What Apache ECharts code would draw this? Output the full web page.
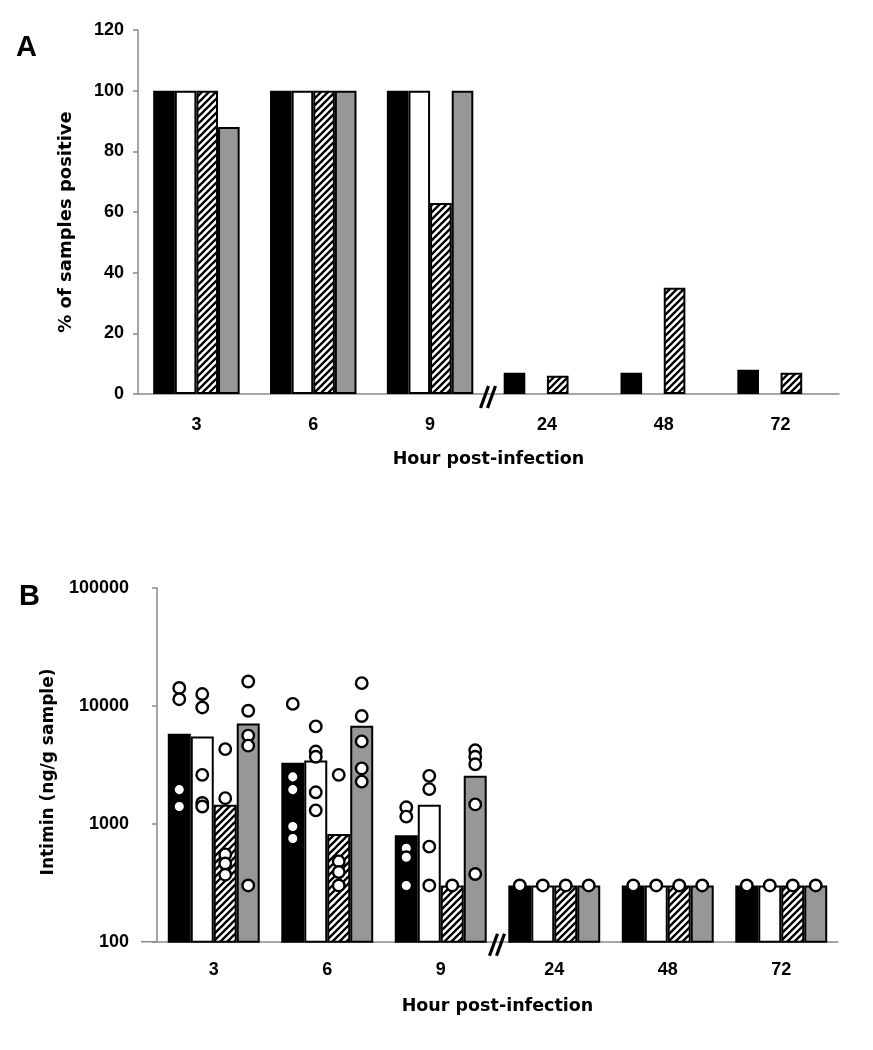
<!DOCTYPE html>
<html>
<head>
<meta charset="utf-8">
<script src="https://cdn.jsdelivr.net/npm/echarts@6/dist/echarts.min.js"></script>
<style>
html,body{margin:0;padding:0;background:#fff;}
#chart{width:873px;height:1050px;}
</style>
</head>
<body>
<div id="chart"></div>
<script>
// ---------- data ----------
const categories = ['3', '6', '9', '24', '48', '72'];

// Panel A: % of samples positive
const pctBlack = [100, 100, 100, 7, 7, 8];
const pctWhite = [100, 100, 100, 0, 0, 0];
const pctHatch = [100, 100, 63, 6, 35, 7];
const pctGray  = [88, 100, 100, 0, 0, 0];

// Panel B: Intimin (ng/g sample), bar = group level
const intBlack = [5800, 3300, 800, 300, 300, 300];
const intWhite = [5500, 3450, 1450, 300, 300, 300];
const intHatch = [1450, 820, 300, 300, 300, 300];
const intGray  = [7100, 6800, 2550, 300, 300, 300];

// Panel B: individual samples per time point
const dotsBlack = [[14200, 11400, 1950, 1400], [10400, 2500, 1950, 950, 750], [1380, 1150, 620, 520, 300], [300], [300], [300]];
const dotsWhite = [[12600, 9700, 2600, 1500, 1400], [6700, 4100, 3700, 1850, 1300], [2550, 1970, 640, 300], [300], [300], [300]];
const dotsHatch = [[4300, 1650, 550, 460, 370], [2600, 480, 390, 300], [300], [300], [300], [300]];
const dotsGray  = [[16100, 9100, 5600, 4600, 300], [15600, 8200, 5000, 2950, 2280], [4200, 3700, 3200, 1460, 375], [300], [300], [300]];

const yTicksA = [0, 20, 40, 60, 80, 100, 120];
const yTicksB = [100, 1000, 10000, 100000];

// ---------- styles ----------
function makeHatch() {
  const c = document.createElement('canvas');
  c.width = 7; c.height = 7;
  const g = c.getContext('2d');
  g.fillStyle = '#fff'; g.fillRect(0, 0, 7, 7);
  g.strokeStyle = '#000'; g.lineWidth = 2.3; g.lineCap = 'square';
  g.beginPath();
  g.moveTo(-1, 8); g.lineTo(8, -1);
  g.moveTo(-2, 2); g.lineTo(2, -2);
  g.moveTo(5, 9); g.lineTo(9, 5);
  g.stroke();
  return c;
}
const hatch = { image: makeHatch(), repeat: 'repeat' };
const GRAY = '#979797';
const AXIS = '#8a8a8a';
const fills = ['#000000', '#ffffff', hatch, GRAY];
const tickFont = { fontFamily: '"Liberation Sans Narrow", "Liberation Sans", Arial, sans-serif', fontWeight: 'bold', fontSize: 18, color: '#000' };
const titleFont = { fontFamily: '"DejaVu Sans", Verdana, sans-serif', fontWeight: 'bold', fontSize: 17.5, color: '#000' };

const catGapA = 0.26, catGapB = 0.19;
// center offsets (fraction of category) of the 4 bars in panel B
const offB = [0, 1, 2, 3].map(k => -(1 - catGapB) / 2 + (1 - catGapB) / 4 * (k + 0.5));

function barData(arr) {
  return arr.map(v => v === 0 ? { value: 0, itemStyle: { borderWidth: 0 } } : v);
}
function barSeries(data, k, axisIdx, gap) {
  return {
    type: 'bar', xAxisIndex: axisIdx, yAxisIndex: axisIdx,
    data: barData(data), barGap: '0%', barCategoryGap: (gap * 100) + '%',
    itemStyle: { color: fills[k], borderColor: '#000', borderWidth: 2 },
    silent: true, z: 2
  };
}
function dotSeries(dots, k) {
  const pts = [];
  dots.forEach((list, i) => list.forEach(v => pts.push([i + 0.5 + offB[k], v])));
  return {
    type: 'scatter', xAxisIndex: 2, yAxisIndex: 1, data: pts,
    symbol: 'circle', symbolSize: 11.5,
    itemStyle: { color: '#fff', borderColor: '#000', borderWidth: 2.4, opacity: 1 },
    silent: true, z: 5
  };
}

const chart = echarts.init(document.getElementById('chart'), null, { renderer: 'canvas' });
const option = {
  animation: false,
  backgroundColor: '#fff',
  grid: [
    { left: 138, right: 34, top: 30, height: 364 },
    { left: 157, right: 35, top: 588, height: 353.7 }
  ],
  xAxis: [
    {
      type: 'category', gridIndex: 0, data: categories,
      axisLine: { lineStyle: { color: AXIS, width: 1.5 } },
      axisTick: { show: false },
      axisLabel: Object.assign({ margin: 22 }, tickFont),
      name: 'Hour post-infection', nameLocation: 'middle', nameGap: 56,
      nameTextStyle: titleFont
    },
    {
      type: 'category', gridIndex: 1, data: categories,
      axisLine: { lineStyle: { color: AXIS, width: 1.5 } },
      axisTick: { show: false },
      axisLabel: Object.assign({ margin: 19 }, tickFont),
      name: 'Hour post-infection', nameLocation: 'middle', nameGap: 56,
      nameTextStyle: titleFont
    },
    {
      type: 'value', gridIndex: 1, min: 0, max: categories.length, show: false
    }
  ],
  yAxis: [
    {
      type: 'value', gridIndex: 0, min: 0, max: 120, interval: 20,
      axisLine: { show: true, lineStyle: { color: AXIS, width: 1.5 } },
      axisTick: { show: true, length: 5, lineStyle: { color: AXIS, width: 1.5 } },
      axisLabel: Object.assign({ margin: 14, formatter: v => String(v) }, tickFont),
      splitLine: { show: false }
    },
    {
      type: 'log', gridIndex: 1, min: yTicksB[0], max: yTicksB[yTicksB.length - 1], logBase: 10, offset: 12,
      axisLine: { show: true, lineStyle: { color: AXIS, width: 1.5 } },
      axisTick: { show: true, length: 5, lineStyle: { color: AXIS, width: 1.5 } },
      minorTick: { show: false },
      axisLabel: Object.assign({ margin: 16, formatter: v => String(Math.round(v)) }, tickFont),
      splitLine: { show: false }
    }
  ],
  series: [
    barSeries(pctBlack, 0, 0, catGapA),
    barSeries(pctWhite, 1, 0, catGapA),
    barSeries(pctHatch, 2, 0, catGapA),
    barSeries(pctGray, 3, 0, catGapA),
    barSeries(intBlack, 0, 1, catGapB),
    barSeries(intWhite, 1, 1, catGapB),
    barSeries(intHatch, 2, 1, catGapB),
    barSeries(intGray, 3, 1, catGapB),
    dotSeries(dotsBlack, 0),
    dotSeries(dotsWhite, 1),
    dotSeries(dotsHatch, 2),
    dotSeries(dotsGray, 3)
  ],
  graphic: [
    { type: 'text', id: 'lblA', left: 16, top: 33, style: { text: 'A', font: 'bold 29px "Liberation Sans", Arial, sans-serif', fill: '#000' } },
    { type: 'text', id: 'lblB', left: 19, top: 582, style: { text: 'B', font: 'bold 29px "Liberation Sans", Arial, sans-serif', fill: '#000' } },
    { type: 'text', id: 'ytA', x: 66, y: 222, rotation: Math.PI / 2,
      style: { text: '% of samples positive', font: 'bold 18px "DejaVu Sans", Verdana, sans-serif', fill: '#000', align: 'center', verticalAlign: 'middle' } },
    { type: 'text', id: 'ytB', x: 49, y: 772, rotation: Math.PI / 2,
      style: { text: 'Intimin (ng/g sample)', font: 'bold 17px "DejaVu Sans", Verdana, sans-serif', fill: '#000', align: 'center', verticalAlign: 'middle' } }
  ]
};
chart.setOption(option);

// axis-break marks "//" between 9 h and 24 h, plus x-axis line extension in B
function breakMark(id, cx, cy) {
  const h = 11, w = 4;
  return [
    { type: 'line', id: id + 'a', z: 10, shape: { x1: cx - 4 - w, y1: cy + h, x2: cx - 4 + w, y2: cy - h }, style: { stroke: '#000', lineWidth: 3.2 } },
    { type: 'line', id: id + 'b', z: 10, shape: { x1: cx + 3 - w, y1: cy + h, x2: cx + 3 + w, y2: cy - h }, style: { stroke: '#000', lineWidth: 3.2 } }
  ];
}
const xa = (chart.convertToPixel({ xAxisIndex: 0 }, '9') + chart.convertToPixel({ xAxisIndex: 0 }, '24')) / 2;
const ya = chart.convertToPixel({ yAxisIndex: 0 }, 0);
const xb = (chart.convertToPixel({ xAxisIndex: 1 }, '9') + chart.convertToPixel({ xAxisIndex: 1 }, '24')) / 2;
const yb = chart.convertToPixel({ yAxisIndex: 1 }, yTicksB[0]);
const leftB = chart.convertToPixel({ xAxisIndex: 2 }, 0);
chart.setOption({
  graphic: option.graphic.concat(
    breakMark('brA', xa, ya + 3),
    breakMark('brB', xb, yb + 3),
    [{ type: 'line', id: 'extB', z: 1, shape: { x1: leftB - 16, y1: yb, x2: leftB, y2: yb }, style: { stroke: AXIS, lineWidth: 1.5 } }]
  )
});
</script>
</body>
</html>
